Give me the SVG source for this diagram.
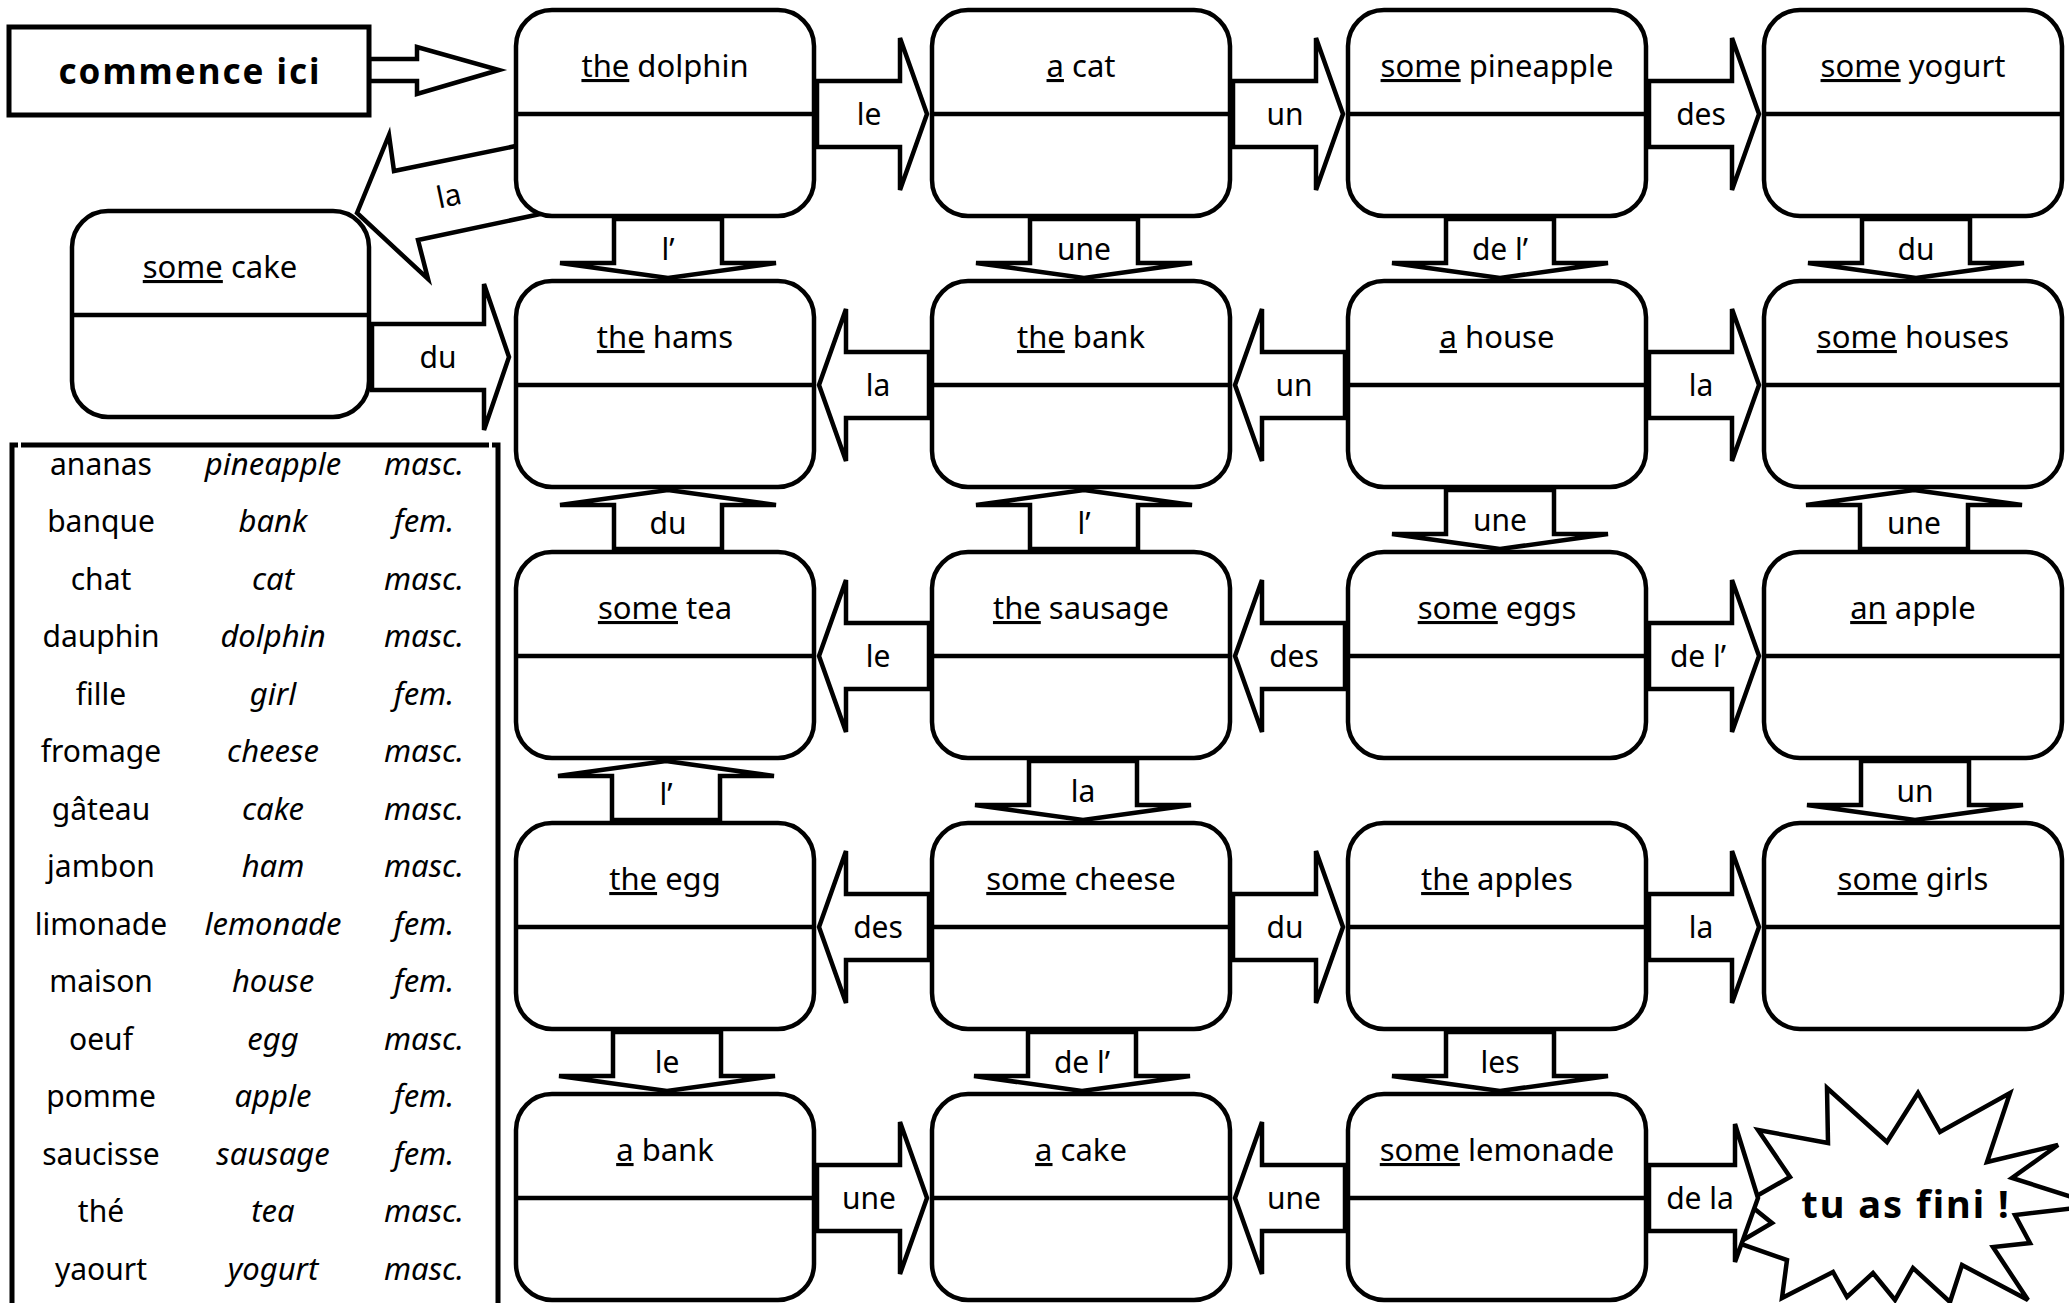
<svg xmlns="http://www.w3.org/2000/svg" width="2069" height="1303" viewBox="0 0 2069 1303">
<style>
.bg{fill:#fff}
.box{fill:#fff;stroke:#000;stroke-width:4.5}
.dv{stroke:#000;stroke-width:4.5}
.arr{fill:#fff;stroke:#000;stroke-width:4.5;stroke-linejoin:miter}
.frame{fill:none;stroke:#000;stroke-width:5}
text{font-family:'Noto Sans','DejaVu Sans',sans-serif;fill:#000;text-anchor:middle}
.nl{font-size:31px}
.al{font-size:30px}
.tb{font-size:30px}
.it{font-style:italic;font-size:31px}
.bold{font-weight:bold}
.u{text-decoration:underline;text-decoration-thickness:3px;text-underline-offset:4px}
</style>
<rect class="bg" x="0" y="0" width="2069" height="1303"/>

<g id="connectors">
  <!-- start -->
  <polygon class="arr" points="369,59 417,59 417,47 499,70 417,94 417,81 369,81"/>
  <!-- dolphin -> cake (la) -->
  <polygon class="arr" points="357,213 389,135 394,171 545,140 550,212 418,240 428,279"/>
  <text class="al" x="451" y="206" transform="rotate(-12 451 206)">la</text>
  <!-- cake -> hams (du) -->
  <polygon class="arr" points="372,324 484,324 484,284 509,357 484,430 484,390 372,390"/>
  <text class="al" x="438" y="368">du</text>

  <!-- row 1 horizontal -->
  <polygon class="arr" points="817,81 900,81 900,38 927,114 900,190 900,147 817,147"/>
  <text class="al" x="869" y="125">le</text>
  <polygon class="arr" points="1233,81 1316,81 1316,38 1343,114 1316,190 1316,147 1233,147"/>
  <text class="al" x="1285" y="125">un</text>
  <polygon class="arr" points="1649,81 1732,81 1732,38 1759,114 1732,190 1732,147 1649,147"/>
  <text class="al" x="1701" y="125">des</text>

  <!-- row 1 to row 2 -->
  <polygon class="arr" points="614,219 614,263 560,263 668,278 776,263 722,263 722,219"/>
  <text class="al" x="668" y="260">l’</text>
  <polygon class="arr" points="1030,219 1030,263 976,263 1084,278 1192,263 1138,263 1138,219"/>
  <text class="al" x="1084" y="260">une</text>
  <polygon class="arr" points="1446,219 1446,263 1392,263 1500,278 1608,263 1554,263 1554,219"/>
  <text class="al" x="1500" y="260">de l’</text>
  <polygon class="arr" points="1862,219 1862,263 1808,263 1916,278 2024,263 1970,263 1970,219"/>
  <text class="al" x="1916" y="260">du</text>

  <!-- row 2 horizontal -->
  <polygon class="arr" points="819,385 846,309 846,352 929,352 929,418 846,418 846,461"/>
  <text class="al" x="878" y="396">la</text>
  <polygon class="arr" points="1235,385 1262,309 1262,352 1345,352 1345,418 1262,418 1262,461"/>
  <text class="al" x="1294" y="396">un</text>
  <polygon class="arr" points="1649,352 1732,352 1732,309 1759,385 1732,461 1732,418 1649,418"/>
  <text class="al" x="1701" y="396">la</text>

  <!-- row 2 to row 3 -->
  <polygon class="arr" points="668,490 776,505 722,505 722,549 614,549 614,505 560,505"/>
  <text class="al" x="668" y="534">du</text>
  <polygon class="arr" points="1084,490 1192,505 1138,505 1138,549 1030,549 1030,505 976,505"/>
  <text class="al" x="1084" y="534">l’</text>
  <polygon class="arr" points="1446,490 1446,534 1392,534 1500,549 1608,534 1554,534 1554,490"/>
  <text class="al" x="1500" y="531">une</text>
  <polygon class="arr" points="1914,490 2022,505 1968,505 1968,549 1860,549 1860,505 1806,505"/>
  <text class="al" x="1914" y="534">une</text>

  <!-- row 3 horizontal -->
  <polygon class="arr" points="819,656 846,580 846,623 929,623 929,689 846,689 846,732"/>
  <text class="al" x="878" y="667">le</text>
  <polygon class="arr" points="1235,656 1262,580 1262,623 1345,623 1345,689 1262,689 1262,732"/>
  <text class="al" x="1294" y="667">des</text>
  <polygon class="arr" points="1649,623 1732,623 1732,580 1759,656 1732,732 1732,689 1649,689"/>
  <text class="al" x="1698" y="667">de l’</text>

  <!-- row 3 to row 4 -->
  <polygon class="arr" points="666,761 774,776 720,776 720,820 612,820 612,776 558,776"/>
  <text class="al" x="666" y="805">l’</text>
  <polygon class="arr" points="1029,761 1029,805 975,805 1083,820 1191,805 1137,805 1137,761"/>
  <text class="al" x="1083" y="802">la</text>
  <polygon class="arr" points="1861,761 1861,805 1807,805 1915,820 2023,805 1969,805 1969,761"/>
  <text class="al" x="1915" y="802">un</text>

  <!-- row 4 horizontal -->
  <polygon class="arr" points="819,927 846,851 846,894 929,894 929,960 846,960 846,1003"/>
  <text class="al" x="878" y="938">des</text>
  <polygon class="arr" points="1233,894 1316,894 1316,851 1343,927 1316,1003 1316,960 1233,960"/>
  <text class="al" x="1285" y="938">du</text>
  <polygon class="arr" points="1649,894 1732,894 1732,851 1759,927 1732,1003 1732,960 1649,960"/>
  <text class="al" x="1701" y="938">la</text>

  <!-- row 4 to row 5 -->
  <polygon class="arr" points="613,1032 613,1076 559,1076 667,1091 775,1076 721,1076 721,1032"/>
  <text class="al" x="667" y="1073">le</text>
  <polygon class="arr" points="1028,1032 1028,1076 974,1076 1082,1091 1190,1076 1136,1076 1136,1032"/>
  <text class="al" x="1082" y="1073">de l’</text>
  <polygon class="arr" points="1446,1032 1446,1076 1392,1076 1500,1091 1608,1076 1554,1076 1554,1032"/>
  <text class="al" x="1500" y="1073">les</text>

  <!-- row 5 horizontal -->
  <polygon class="arr" points="817,1165 900,1165 900,1122 927,1198 900,1274 900,1231 817,1231"/>
  <text class="al" x="869" y="1209">une</text>
  <polygon class="arr" points="1235,1198 1262,1122 1262,1165 1345,1165 1345,1231 1262,1231 1262,1274"/>
  <text class="al" x="1294" y="1209">une</text>
</g>

<g id="start">
  <rect x="9" y="27" width="360" height="88" fill="#fff" stroke="#000" stroke-width="5"/>
  <text class="bold" x="190" y="84" font-size="35" letter-spacing="2">commence ici</text>
</g>

<g id="n-cake0" transform="translate(72,211)">
  <rect class="box" x="0" y="0" width="297" height="206" rx="36"/>
  <line class="dv" x1="0" y1="104" x2="297" y2="104"/>
  <text class="nl" x="148" y="67"><tspan class="u">some</tspan> cake</text>
</g>

<g id="n-dolphin" transform="translate(516,10)">
  <rect class="box" x="0" y="0" width="298" height="206" rx="36"/>
  <line class="dv" x1="0" y1="104" x2="298" y2="104"/>
  <text class="nl" x="149" y="67"><tspan class="u">the</tspan> dolphin</text>
</g>
<g id="n-cat" transform="translate(932,10)">
  <rect class="box" x="0" y="0" width="298" height="206" rx="36"/>
  <line class="dv" x1="0" y1="104" x2="298" y2="104"/>
  <text class="nl" x="149" y="67"><tspan class="u">a</tspan> cat</text>
</g>
<g id="n-pineapple" transform="translate(1348,10)">
  <rect class="box" x="0" y="0" width="298" height="206" rx="36"/>
  <line class="dv" x1="0" y1="104" x2="298" y2="104"/>
  <text class="nl" x="149" y="67"><tspan class="u">some</tspan> pineapple</text>
</g>
<g id="n-yogurt" transform="translate(1764,10)">
  <rect class="box" x="0" y="0" width="298" height="206" rx="36"/>
  <line class="dv" x1="0" y1="104" x2="298" y2="104"/>
  <text class="nl" x="149" y="67"><tspan class="u">some</tspan> yogurt</text>
</g>

<g id="n-hams" transform="translate(516,281)">
  <rect class="box" x="0" y="0" width="298" height="206" rx="36"/>
  <line class="dv" x1="0" y1="104" x2="298" y2="104"/>
  <text class="nl" x="149" y="67"><tspan class="u">the</tspan> hams</text>
</g>
<g id="n-bank1" transform="translate(932,281)">
  <rect class="box" x="0" y="0" width="298" height="206" rx="36"/>
  <line class="dv" x1="0" y1="104" x2="298" y2="104"/>
  <text class="nl" x="149" y="67"><tspan class="u">the</tspan> bank</text>
</g>
<g id="n-house" transform="translate(1348,281)">
  <rect class="box" x="0" y="0" width="298" height="206" rx="36"/>
  <line class="dv" x1="0" y1="104" x2="298" y2="104"/>
  <text class="nl" x="149" y="67"><tspan class="u">a</tspan> house</text>
</g>
<g id="n-houses" transform="translate(1764,281)">
  <rect class="box" x="0" y="0" width="298" height="206" rx="36"/>
  <line class="dv" x1="0" y1="104" x2="298" y2="104"/>
  <text class="nl" x="149" y="67"><tspan class="u">some</tspan> houses</text>
</g>

<g id="n-tea" transform="translate(516,552)">
  <rect class="box" x="0" y="0" width="298" height="206" rx="36"/>
  <line class="dv" x1="0" y1="104" x2="298" y2="104"/>
  <text class="nl" x="149" y="67"><tspan class="u">some</tspan> tea</text>
</g>
<g id="n-sausage" transform="translate(932,552)">
  <rect class="box" x="0" y="0" width="298" height="206" rx="36"/>
  <line class="dv" x1="0" y1="104" x2="298" y2="104"/>
  <text class="nl" x="149" y="67"><tspan class="u">the</tspan> sausage</text>
</g>
<g id="n-eggs" transform="translate(1348,552)">
  <rect class="box" x="0" y="0" width="298" height="206" rx="36"/>
  <line class="dv" x1="0" y1="104" x2="298" y2="104"/>
  <text class="nl" x="149" y="67"><tspan class="u">some</tspan> eggs</text>
</g>
<g id="n-apple" transform="translate(1764,552)">
  <rect class="box" x="0" y="0" width="298" height="206" rx="36"/>
  <line class="dv" x1="0" y1="104" x2="298" y2="104"/>
  <text class="nl" x="149" y="67"><tspan class="u">an</tspan> apple</text>
</g>

<g id="n-egg" transform="translate(516,823)">
  <rect class="box" x="0" y="0" width="298" height="206" rx="36"/>
  <line class="dv" x1="0" y1="104" x2="298" y2="104"/>
  <text class="nl" x="149" y="67"><tspan class="u">the</tspan> egg</text>
</g>
<g id="n-cheese" transform="translate(932,823)">
  <rect class="box" x="0" y="0" width="298" height="206" rx="36"/>
  <line class="dv" x1="0" y1="104" x2="298" y2="104"/>
  <text class="nl" x="149" y="67"><tspan class="u">some</tspan> cheese</text>
</g>
<g id="n-apples" transform="translate(1348,823)">
  <rect class="box" x="0" y="0" width="298" height="206" rx="36"/>
  <line class="dv" x1="0" y1="104" x2="298" y2="104"/>
  <text class="nl" x="149" y="67"><tspan class="u">the</tspan> apples</text>
</g>
<g id="n-girls" transform="translate(1764,823)">
  <rect class="box" x="0" y="0" width="298" height="206" rx="36"/>
  <line class="dv" x1="0" y1="104" x2="298" y2="104"/>
  <text class="nl" x="149" y="67"><tspan class="u">some</tspan> girls</text>
</g>

<g id="n-bank2" transform="translate(516,1094)">
  <rect class="box" x="0" y="0" width="298" height="206" rx="36"/>
  <line class="dv" x1="0" y1="104" x2="298" y2="104"/>
  <text class="nl" x="149" y="67"><tspan class="u">a</tspan> bank</text>
</g>
<g id="n-cake" transform="translate(932,1094)">
  <rect class="box" x="0" y="0" width="298" height="206" rx="36"/>
  <line class="dv" x1="0" y1="104" x2="298" y2="104"/>
  <text class="nl" x="149" y="67"><tspan class="u">a</tspan> cake</text>
</g>
<g id="n-lemonade" transform="translate(1348,1094)">
  <rect class="box" x="0" y="0" width="298" height="206" rx="36"/>
  <line class="dv" x1="0" y1="104" x2="298" y2="104"/>
  <text class="nl" x="149" y="67"><tspan class="u">some</tspan> lemonade</text>
</g>

<g id="finish">
  <polygon class="arr" points="1758,1130 1828,1143 1827,1088 1887,1142 1918,1093 1940,1132 2010,1093 1987,1162 2058,1145 2012,1178 2075,1198 2075,1208 2015,1215 2030,1243 1993,1247 2028,1300 1962,1265 1950,1302 1913,1268 1895,1300 1873,1273 1847,1297 1833,1272 1782,1298 1787,1260 1738,1243 1772,1223 1746,1202 1790,1177"/>
  <polygon class="arr" points="1649,1165 1735,1165 1735,1124 1758,1198 1735,1262 1735,1231 1649,1231"/>
  <text class="al" x="1700" y="1209">de la</text>
  <text class="bold" x="1906" y="1218" font-size="38" letter-spacing="2">tu as fini !</text>
</g>

<g id="vocab">
  <path class="frame" d="M18 445 H12 V1310 M21 445 H489 M492 445 H498 V1310"/>
  <g class="tb">
    <text x="101" y="475">ananas</text><text class="it" x="273" y="475">pineapple</text><text class="it" x="424" y="475">masc.</text>
    <text x="101" y="532">banque</text><text class="it" x="273" y="532">bank</text><text class="it" x="424" y="532">fem.</text>
    <text x="101" y="590">chat</text><text class="it" x="273" y="590">cat</text><text class="it" x="424" y="590">masc.</text>
    <text x="101" y="647">dauphin</text><text class="it" x="273" y="647">dolphin</text><text class="it" x="424" y="647">masc.</text>
    <text x="101" y="705">fille</text><text class="it" x="273" y="705">girl</text><text class="it" x="424" y="705">fem.</text>
    <text x="101" y="762">fromage</text><text class="it" x="273" y="762">cheese</text><text class="it" x="424" y="762">masc.</text>
    <text x="101" y="820">gâteau</text><text class="it" x="273" y="820">cake</text><text class="it" x="424" y="820">masc.</text>
    <text x="101" y="877">jambon</text><text class="it" x="273" y="877">ham</text><text class="it" x="424" y="877">masc.</text>
    <text x="101" y="935">limonade</text><text class="it" x="273" y="935">lemonade</text><text class="it" x="424" y="935">fem.</text>
    <text x="101" y="992">maison</text><text class="it" x="273" y="992">house</text><text class="it" x="424" y="992">fem.</text>
    <text x="101" y="1050">oeuf</text><text class="it" x="273" y="1050">egg</text><text class="it" x="424" y="1050">masc.</text>
    <text x="101" y="1107">pomme</text><text class="it" x="273" y="1107">apple</text><text class="it" x="424" y="1107">fem.</text>
    <text x="101" y="1165">saucisse</text><text class="it" x="273" y="1165">sausage</text><text class="it" x="424" y="1165">fem.</text>
    <text x="101" y="1222">thé</text><text class="it" x="273" y="1222">tea</text><text class="it" x="424" y="1222">masc.</text>
    <text x="101" y="1280">yaourt</text><text class="it" x="273" y="1280">yogurt</text><text class="it" x="424" y="1280">masc.</text>
  </g>
</g>
</svg>
